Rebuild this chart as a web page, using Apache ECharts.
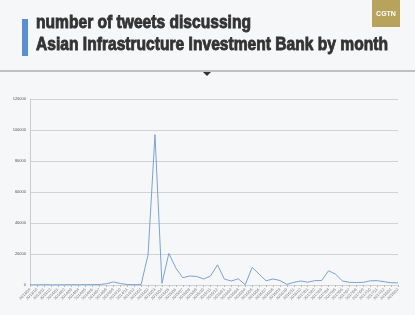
<!DOCTYPE html>
<html><head><meta charset="utf-8">
<script src="https://cdn.jsdelivr.net/npm/echarts@6/dist/echarts.min.js"></script>
<style>html,body{margin:0;padding:0;background:#f6f7f9}#c{width:415px;height:315px}</style>
</head><body><div id="c"></div>
<script>
var months = [];
(function(){var y=2013,m=9;for(var i=0;i<54;i++){months.push(y+'/'+(m<10?'0'+m:m));m++;if(m>12){m=1;y++;}}})();
var tweets = [150,120,180,150,130,160,200,180,220,250,300,800,2000,1000,300,250,300,19400,97000,1000,20400,11000,4700,5800,5500,3900,5800,13000,3800,2600,4000,200,11400,7000,2700,3900,2900,400,1700,2600,1800,2800,2900,9200,7000,2600,1700,1600,1700,2700,2800,2100,1500,1400];
var titleLines = ['number of tweets discussing','Asian Infrastructure Investment Bank by month'];

var titleFont = 'bold 19px "Liberation Sans","DejaVu Sans",sans-serif';
var cv = document.createElement('canvas').getContext('2d');
cv.font = titleFont;
var sx = 352 / cv.measureText(titleLines[1]).width;

var chart = echarts.init(document.getElementById('c'));
chart.setOption({
  backgroundColor:'#f6f7f9',
  animation:false,
  graphic:[
    {type:'rect',shape:{x:22,y:19,width:6,height:37},style:{fill:'#5b8fd0'}},
    {type:'text',x:36,y:32,scaleX:sx,style:{x:0,y:0,text:titleLines[0],font:titleFont,fill:'#333',stroke:'#333',lineWidth:0.9,verticalAlign:'bottom'}},
    {type:'text',x:36,y:54,scaleX:sx,style:{x:0,y:0,text:titleLines[1],font:titleFont,fill:'#333',stroke:'#333',lineWidth:0.9,verticalAlign:'bottom'}},
    {type:'rect',shape:{x:372,y:0,width:28,height:27},style:{fill:'#b8a35c'}},
    {type:'text',x:386,y:14,style:{text:'CGTN',font:'bold 7px "Liberation Sans",sans-serif',fill:'#fff',align:'center',verticalAlign:'middle'}},
    {type:'line',shape:{x1:0,y1:71,x2:415,y2:71},style:{stroke:'#8a8a8a',lineWidth:1}},
    {type:'polygon',shape:{points:[[203,72],[211,72],[207,76]]},style:{fill:'#333'}}
  ],
  grid:{left:30,right:17,top:99,bottom:30},
  xAxis:{type:'category',data:months,boundaryGap:false,
    axisLine:{show:false},
    axisTick:{show:true,length:2,lineStyle:{color:'#bbb'}},
    axisLabel:{interval:0,rotate:45,fontSize:4,color:'#777',margin:4}},
  yAxis:{type:'value',min:0,max:120000,interval:20000,
    axisLine:{show:true,lineStyle:{color:'#ccc'}},
    axisTick:{show:false},
    splitLine:{lineStyle:{color:'#d2d2d2',width:1}},
    axisLabel:{fontSize:4,color:'#555',margin:4,formatter:function(v){return String(v);}}},
  series:[{type:'line',data:tweets,symbol:'none',lineStyle:{color:'#7ba2d4',width:1}}]
});
</script></body></html>
